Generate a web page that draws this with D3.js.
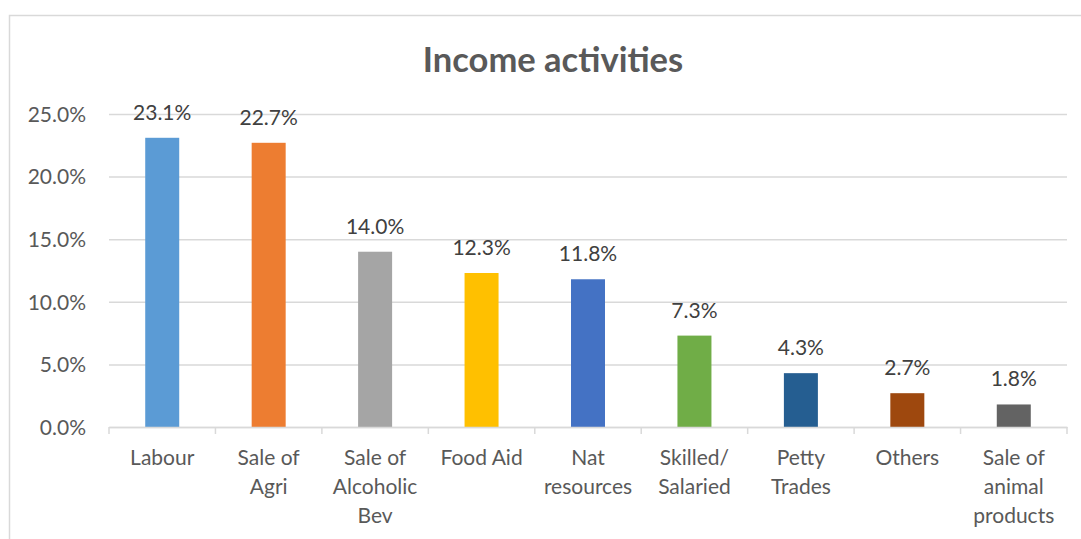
<!DOCTYPE html>
<html><head><meta charset="utf-8">
<script src="https://cdn.jsdelivr.net/npm/d3@7"></script>
<style>body{margin:0;background:#fff;} svg{display:block;}</style>
</head><body>
<svg id="c" width="1081" height="539"></svg>
<script>
const categories = [["Labour"],["Sale of","Agri"],["Sale of","Alcoholic","Bev"],["Food Aid"],["Nat","resources"],["Skilled/","Salaried"],["Petty","Trades"],["Others"],["Sale of","animal","products"]];
const values = [23.1, 22.7, 14.0, 12.3, 11.8, 7.3, 4.3, 2.7, 1.8];
const colors = ["#5B9BD5","#ED7D31","#A5A5A5","#FFC000","#4472C4","#70AD47","#255E91","#9E480E","#636363"];
const yTicks = [0,5,10,15,20,25];
const title = "Income activities";

(function(){
const svg = d3.select("#c");
const font = "Lato, 'Open Sans', sans-serif";
svg.append("rect").attr("x",9.5).attr("y",15.5).attr("width",1100).attr("height",600)
  .attr("fill","#fff").attr("stroke","#d9d9d9").attr("stroke-width",1.5);

const pl=109, pr=1067, pt=114, pb=427;
const x = d3.scaleBand().domain(d3.range(categories.length)).range([pl,pr]).paddingInner(0).paddingOuter(0);
const y = d3.scaleLinear().domain([0,25]).range([pb,pt]);

svg.append("text").attr("x",553).attr("y",72).attr("text-anchor","middle")
  .attr("font-family",font).attr("font-weight","bold").attr("font-size",34.5).attr("fill","#595959").text(title);

const yAxis = svg.append("g").attr("transform",`translate(${pl},0)`)
  .call(d3.axisLeft(y).tickValues(yTicks).tickSize(-(pr-pl)).tickFormat(d=>d.toFixed(1)+"%"));
yAxis.select(".domain").remove();
yAxis.selectAll(".tick line").attr("stroke","#d9d9d9").attr("stroke-width",1.5);
yAxis.selectAll(".tick text").attr("x",-23).attr("dy","0.35em").attr("font-family",font).attr("font-size",21).attr("fill","#595959");

const bw = 34;
svg.append("g").selectAll("rect").data(values).join("rect")
  .attr("x",(d,i)=>x(i)+x.bandwidth()/2-bw/2).attr("width",bw)
  .attr("y",d=>y(d)).attr("height",d=>y(0)-y(d)).attr("fill",(d,i)=>colors[i]);

const xAxis = svg.append("g").attr("transform",`translate(0,${pb})`)
  .call(d3.axisBottom(x).tickValues([]).tickSize(0));
xAxis.select(".domain").attr("stroke","#d9d9d9").attr("stroke-width",1.5);
const edges = d3.range(categories.length+1).map(i=>pl+i*x.bandwidth());
xAxis.selectAll("line.edge").data(edges).join("line").attr("class","edge")
  .attr("x1",d=>d).attr("x2",d=>d).attr("y1",0).attr("y2",7).attr("stroke","#d9d9d9").attr("stroke-width",1.5);

const cl = svg.append("g").selectAll("text").data(categories).join("text")
  .attr("text-anchor","middle").attr("font-family",font).attr("font-size",21).attr("fill","#595959");
cl.each(function(lines,i){
  d3.select(this).selectAll("tspan").data(lines).join("tspan")
    .attr("x",x(i)+x.bandwidth()/2).attr("y",(d,j)=>465+j*29).text(d=>d);
});

svg.append("g").selectAll("text").data(values).join("text")
  .attr("x",(d,i)=>x(i)+x.bandwidth()/2).attr("y",d=>y(d)-18)
  .attr("text-anchor","middle").attr("font-family",font).attr("font-size",21).attr("fill","#404040")
  .text(d=>d.toFixed(1)+"%");
})();
</script>
</body></html>
